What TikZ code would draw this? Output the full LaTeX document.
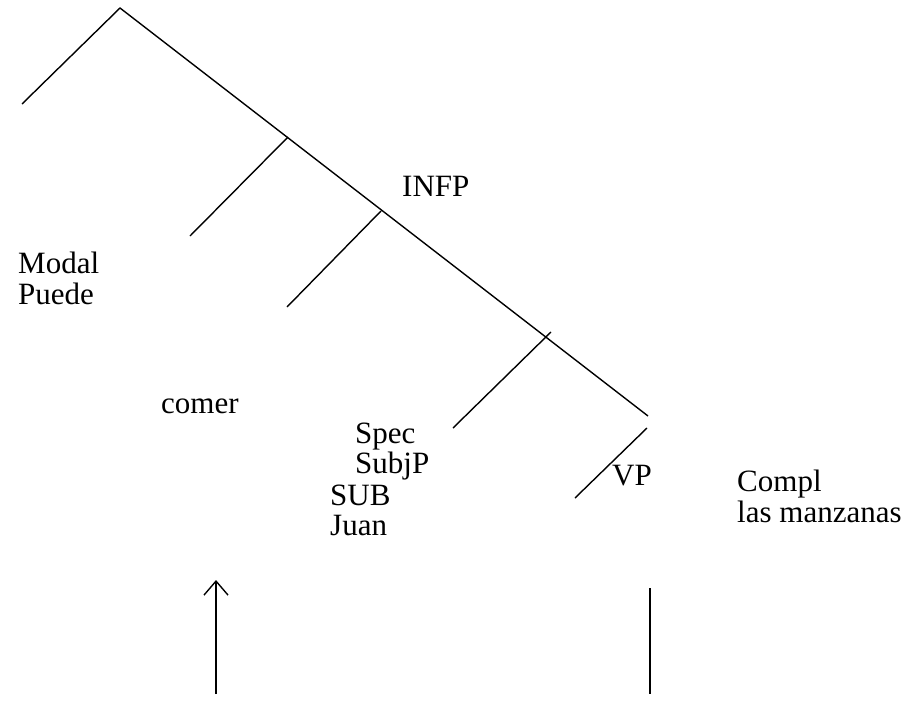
\documentclass[tikz,border=0pt]{standalone}
\usepackage{fontspec}
\setmainfont{Liberation Serif}
\usetikzlibrary{arrows.meta}
\tikzstyle{every node}=[inner sep=0pt, anchor=base west,
                        font=\fontsize{31}{31}\selectfont]
\tikzstyle{every picture}=[x=1pt,y=-1pt]
\tikzstyle{branch}=[line width=1.4pt]
\begin{document}
\begin{tikzpicture}
  \useasboundingbox (0,0) rectangle (922,715);
  % tree points
  \coordinate (top) at (120,8);
  \coordinate (lft) at (22,104);
  \coordinate (bot) at (648,416);
  \coordinate (infpA) at (288,137);
  \coordinate (infpB) at (190,236);
  \coordinate (subjA) at (381,211);
  \coordinate (subjB) at (287,307);
  \coordinate (specA) at (551,332);
  \coordinate (specB) at (453,428);
  \coordinate (vpA) at (647,428);
  \coordinate (vpB) at (575,498);
  \coordinate (upA) at (216,694);
  \coordinate (upB) at (216,580);
  \coordinate (dnA) at (650,588);
  \coordinate (dnB) at (650,694);
  % labels
  \node (modal) at (18,273) {Modal};
  \node (puede) at (18,304) {Puede};
  \node (comer) at (161,413) {comer};
  \node (infp) at (402,196) {INFP};
  \node (spec) at (355,443) {Spec};
  \node (subjp) at (355,473) {SubjP};
  \node (sub) at (330,505) {SUB};
  \node (juan) at (330,535) {Juan};
  \node (vp) at (612,485) {VP};
  \node (compl) at (737,491) {Compl};
  \node (manz) at (737,522) {las manzanas};
  % lines
  \draw[branch] (lft)--(top)--(bot);
  \draw[branch] (infpA)--(infpB);
  \draw[branch] (subjA)--(subjB);
  \draw[branch] (specA)--(specB);
  \draw[branch] (vpA)--(vpB);
  \draw[branch, -{Straight Barb[length=14pt,width=24pt]}] (upA)--(upB);
  \draw[branch] (dnA)--(dnB);
\end{tikzpicture}
\end{document}
